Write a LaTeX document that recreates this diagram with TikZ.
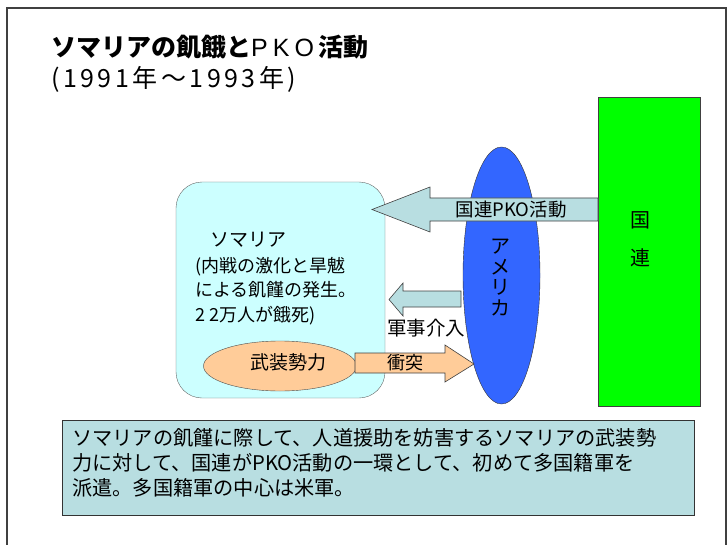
\documentclass[tikz,border=0pt]{standalone}
\usepackage{fontspec}
\setmainfont{Noto Sans CJK JP}
\newfontfamily\latinfont[LetterSpace=20]{Liberation Sans}
\usetikzlibrary{calc,shapes.geometric}
\definecolor{somaliabg}{HTML}{CCFFFF}
\definecolor{peach}{HTML}{FFCC99}
\definecolor{usblue}{HTML}{3366FF}
\definecolor{unggreen}{HTML}{00FF00}
\definecolor{pkoteal}{HTML}{B8DEE1}
\def\fs#1#2{\fontsize{#1}{#2}\selectfont}

\begin{document}
\begin{tikzpicture}[x=1pt,y=-1pt]
	%%%%% START %%%%%
	\useasboundingbox (0,0) rectangle (727,545);
	\draw[line width=1.3pt, color=black!75] (7,545) -- (7,8) -- (726,8) -- (726,545);
	
	\node[anchor=west, inner sep=0, font=\fs{25}{25}\bfseries] (title) at (51,47) {ソマリアの飢餓と{\mdseries\latinfont PKO}\,活動};
	\node[anchor=west, inner sep=0, font=\fs{25}{25}\addfontfeature{LetterSpace=14}] (years) at (51,79) {(1991年～1993年)};
	
	\node[draw=black!60, fill=somaliabg, rounded corners=26pt, minimum width=209pt, minimum height=216pt] (somalia) at (280.5,290) {};
	\node[inner sep=0, font=\fs{19}{19}] (somalianame) at (248,240) {ソマリア};
	\node[anchor=north west, inner sep=0, align=left, font=\fs{18}{24.5}] (famine) at (195,257) {(内戦の激化と旱魃\\による飢饉の発生。\\2 2万人が餓死)};
	
	\node[draw=black!70, fill=peach, ellipse, inner sep=0, minimum width=153pt, minimum height=50pt] (armed) at (280,366) {};
	\node[inner sep=0, font=\fs{19}{19}] (armedname) at (288,362.5) {武装勢力};
	
	\node[draw=black!80, fill=usblue, ellipse, inner sep=0, minimum width=77pt, minimum height=257pt] (usa) at (501.5,275.5) {};
	
	\draw[line width=0.6pt, color=black!75, fill=peach] (355,353) -- (445,353) -- (445,345) -- (474,364) -- (445,382) -- (445,373) -- (355,373) -- cycle;
	\node[inner sep=0, font=\fs{18}{18}] (clash) at (405,362.5) {衝突};
	
	\draw[line width=0.6pt, color=black!75, fill=pkoteal] (461,291) -- (403,291) -- (403,283) -- (389,299.5) -- (403,316) -- (403,307) -- (461,307) -- cycle;
	\node[inner sep=0, font=\fs{19.5}{19.5}] (military) at (426,328.5) {軍事介入};
	
	\node[draw=black!75, fill=unggreen, minimum width=102pt, minimum height=309pt] (un) at (649,251.5) {};
	\node[inner sep=0, align=center, font=\fs{20}{38}] (unname) at (640,239) {国\\連};
	
	\draw[line width=0.6pt, color=black!75, fill=pkoteal] (598,198) -- (430,198) -- (430,187) -- (372,209.5) -- (430,232) -- (430,221) -- (598,221) -- cycle;
	\node[inner sep=0, font=\fs{18.5}{18.5}] (pko) at (511,210) {国連PKO活動};
	
	\node[inner sep=0, align=center, font=\fs{20}{20.5}] (usaname) at (500.5,277.5) {ア\\メ\\リ\\カ};
	
	\node[draw=black!80, fill=pkoteal, minimum width=632pt, minimum height=95pt] (summary) at (378,467.5) {};
	\node[anchor=north west, inner sep=0, align=left, font=\fs{20.2}{25}] (summarytext) at (72,428) {ソマリアの飢饉に際して、人道援助を妨害するソマリアの武装勢\\力に対して、国連がPKO活動の一環として、初めて多国籍軍を\\派遣。多国籍軍の中心は米軍。};
	%%%%% END %%%%%
\end{tikzpicture}
\end{document}
